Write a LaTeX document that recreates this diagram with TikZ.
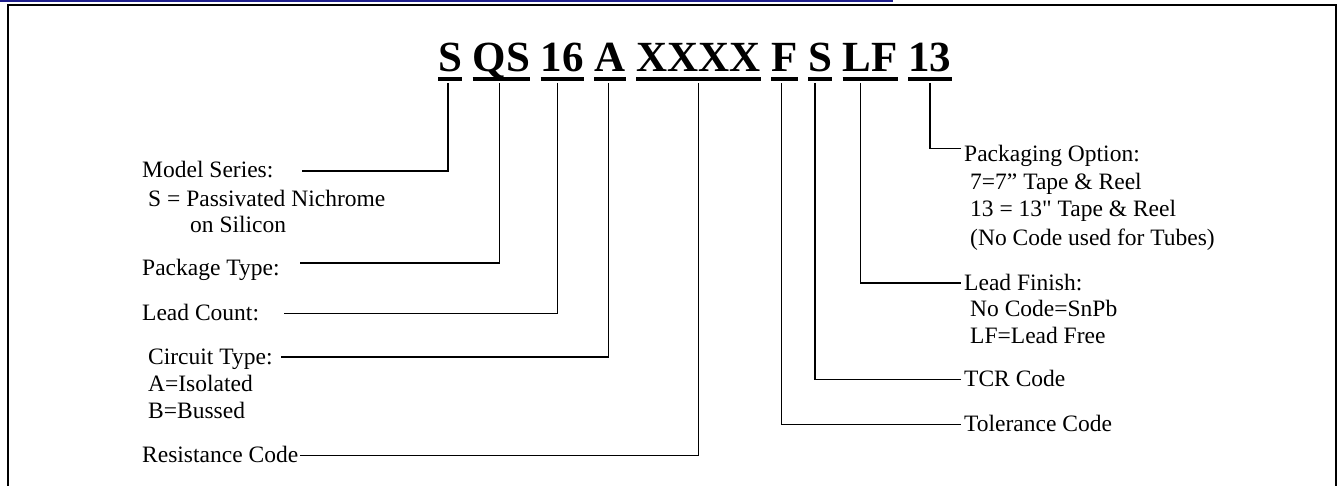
\documentclass[tikz,border=0pt]{standalone}
\usepackage{fontspec}
\setmainfont{Liberation Serif}
\usetikzlibrary{positioning}
\definecolor{rulesblue}{RGB}{30,30,140}

\begin{document}
\begin{tikzpicture}[x=1pt, y=-1pt,
  code/.style={font=\fontsize{43pt}{50pt}\selectfont\bfseries, inner sep=0pt, text depth=0pt},
  uline/.style={line width=4pt},
  lbl/.style={font=\fontsize{23.5pt}{27pt}\selectfont, inner sep=0pt, text height=14pt, text depth=0pt, anchor=base west},
  sub/.style={font=\fontsize{23.5pt}{27pt}\selectfont, inner sep=0pt, anchor=base west},
  lead/.style={line width=1.5pt}]
\useasboundingbox (0,0) rectangle (1340,486);
% header rule and frame
\draw[rulesblue, line width=2.5pt] (0,1.2) -- (893,1.2);
\draw[line width=2pt] (8,500) |- (1336,5) -- (1336,500);
% part number
\node[code, anchor=base west] (cS) at (438,71.7) {S};
\node[code, base right=10.3pt of cS] (cQS) {QS};
\node[code, base right=10.3pt of cQS] (c16) {16};
\node[code, base right=10.3pt of c16] (cA) {A};
\node[code, base right=10.3pt of cA] (cX) {XXXX};
\node[code, base right=10.3pt of cX] (cF) {F};
\node[code, base right=10.3pt of cF] (cT) {S};
\node[code, base right=10.3pt of cT] (cLF) {LF};
\node[code, base right=10.3pt of cLF] (c13) {13};
\draw[uline] ([yshift=-7.5pt]cS.south west) -- ([yshift=-7.5pt]cS.south east);
\draw[uline] ([yshift=-7.5pt]cQS.south west) -- ([yshift=-7.5pt]cQS.south east);
\draw[uline] ([yshift=-7.5pt]c16.south west) -- ([yshift=-7.5pt]c16.south east);
\draw[uline] ([yshift=-7.5pt]cA.south west) -- ([yshift=-7.5pt]cA.south east);
\draw[uline] ([yshift=-7.5pt]cX.south west) -- ([yshift=-7.5pt]cX.south east);
\draw[uline] ([yshift=-7.5pt]cF.south west) -- ([yshift=-7.5pt]cF.south east);
\draw[uline] ([yshift=-7.5pt]cT.south west) -- ([yshift=-7.5pt]cT.south east);
\draw[uline] ([yshift=-7.5pt]cLF.south west) -- ([yshift=-7.5pt]cLF.south east);
\draw[uline] ([yshift=-7.5pt]c13.south west) -- ([yshift=-7.5pt]c13.south east);
% left labels
\node[lbl] (ms) at (142,178) {Model Series:};
\node[sub] (ms1) at (148,206.7) {S = Passivated Nichrome};
\node[sub] (ms2) at (190,232.7) {on Silicon};
\node[lbl] (pt) at (142,275) {Package Type:};
\node[lbl] (lc) at (142,320.7) {Lead Count:};
\node[lbl] (ct) at (148,364) {Circuit Type:};
\node[sub] (ct1) at (148,391.7) {A=Isolated};
\node[sub] (ct2) at (148,418) {B=Bussed};
\node[lbl] (rc) at (142,462.7) {Resistance Code};
% right labels
\node[lbl] (po) at (964,161.7) {Packaging Option:};
\node[sub] (po1) at (970,190) {7=7” Tape \& Reel};
\node[sub] (po2) at (970,217) {13 = 13\textquotedbl{} Tape \& Reel};
\node[sub] (po3) at (970,245) {(No Code used for Tubes)};
\node[lbl] (lf) at (964,290) {Lead Finish:};
\node[sub] (lf1) at (970,316) {No Code=SnPb};
\node[sub] (lf2) at (970,343) {LF=Lead Free};
\node[lbl] (tcr) at (964,386.7) {TCR Code};
\node[lbl] (tol) at (964,431.7) {Tolerance Code};
% leaders
\draw[lead] ([xshift=-2pt,yshift=-11pt]cS.south) |- ([xshift=28pt]ms.east);
\draw[lead] ([xshift=-2pt,yshift=-11pt]cQS.south) |- ([xshift=20pt,yshift=5pt]pt.east);
\draw[lead] ([xshift=-5pt,yshift=-11pt]c16.south) |- ([xshift=25pt]lc.east);
\draw[lead] ([xshift=-1.5pt,yshift=-11pt]cA.south) |- ([xshift=8pt]ct.east);
\draw[lead] ([yshift=-11pt]cX.south) |- ([xshift=2pt]rc.east);
\draw[lead] ([xshift=-3pt,yshift=-11pt]cF.south) |- ([xshift=-3pt]tol.west);
\draw[lead] ([xshift=-5pt,yshift=-11pt]cT.south) |- ([xshift=-3pt]tcr.west);
\draw[lead] ([xshift=-10pt,yshift=-11pt]cLF.south) |- ([xshift=-3pt]lf.west);
\draw[lead] ([yshift=-11pt]c13.south) |- ([xshift=-3pt,yshift=6pt]po.west);
\end{tikzpicture}
\end{document}
